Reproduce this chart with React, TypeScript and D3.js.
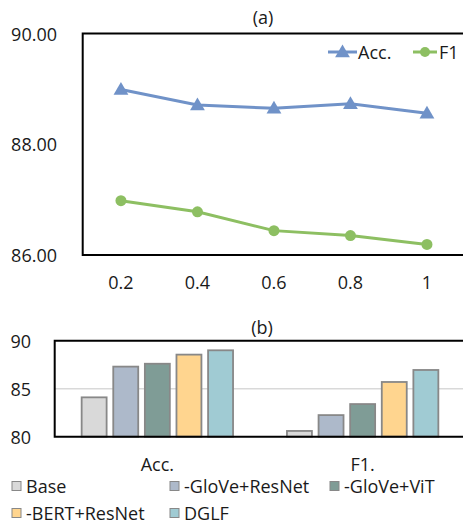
import React from "react";
import * as d3 from "d3";

const ratios = ["0.2", "0.4", "0.6", "0.8", "1"];
const accLine = [88.99, 88.71, 88.65, 88.73, 88.56];
const f1Line = [86.98, 86.78, 86.44, 86.35, 86.19];
const aTicks = [86, 88, 90];

const groups = ["Acc.", "F1."];
const series = ["Base", "-GloVe+ResNet", "-GloVe+ViT", "-BERT+ResNet", "DGLF"];
const accBars = [84.1, 87.3, 87.6, 88.55, 89.0];
const f1Bars = [80.6, 82.25, 83.4, 85.7, 86.95];
const bTicks = [80, 85, 90];

const seriesColors = ["#d9d9d9", "#adb9ca", "#7f9c96", "#ffd58f", "#a0cbd3"];
const FONT = "'Open Sans', 'Noto Sans', sans-serif";
const BLUE = "#7092c8";
const GREEN = "#8dbf62";
const TXT = "#1a1a1a";

export default function App() {
  // Chart (a)
  const xa = d3.scaleBand<string>().domain(ratios).range([82.7, 465.2]);
  const ya = d3.scaleLinear().domain([86, 90]).range([255, 33.5]);
  const cx = (c: string) => (xa(c) as number) + xa.bandwidth() / 2;
  const line = d3
    .line<number>()
    .x((_, i) => cx(ratios[i]))
    .y((d) => ya(d));
  const tri = d3.symbol().type(d3.symbolTriangle).size(95)();

  // Chart (b)
  const xb = d3.scaleBand<string>().domain(groups).range([54.7, 465.3]);
  const xs = d3.scaleBand<string>().domain(series).range([-75.7, 75.7]).paddingInner(0.21);
  const yb = d3.scaleLinear().domain([80, 90]).range([436.7, 340.7]);
  const barData = [accBars, f1Bars];

  const legendB = [
    { i: 0, x: 12, y: 486 },
    { i: 1, x: 170, y: 486 },
    { i: 2, x: 330, y: 486 },
    { i: 3, x: 12, y: 513 },
    { i: 4, x: 170, y: 513 },
  ];

  return (
    <svg
      width={463}
      height={524}
      style={{ position: "absolute", left: 0, top: 0, background: "#fff" }}
      fontFamily={FONT}
    >
      <rect x={0} y={0} width={463} height={524} fill="#fff" />
      {/* (a) */}
      <text x={263} y={17} textAnchor="middle" dominantBaseline="central" fontSize={18} fill={TXT}>
        (a)
      </text>
      {aTicks.map((t) => (
        <text key={t} x={57} y={ya(t)} textAnchor="end" dominantBaseline="central" fontSize={18} fill={TXT}>
          {t.toFixed(2)}
        </text>
      ))}
      {ratios.map((r) => (
        <text key={r} x={cx(r)} y={282} textAnchor="middle" dominantBaseline="central" fontSize={18} fill={TXT}>
          {r}
        </text>
      ))}
      <path d={line(accLine) as string} fill="none" stroke={BLUE} strokeWidth={3} />
      {accLine.map((v, i) => (
        <path key={i} d={tri as string} transform={`translate(${cx(ratios[i])},${ya(v) + 1})`} fill={BLUE} />
      ))}
      <path d={line(f1Line) as string} fill="none" stroke={GREEN} strokeWidth={3} />
      {f1Line.map((v, i) => (
        <circle key={i} cx={cx(ratios[i])} cy={ya(v)} r={5.5} fill={GREEN} />
      ))}
      <path
        d={`M470,${ya(90)}H${xa.range()[0]}V${ya(86)}H470`}
        fill="none"
        stroke="#000"
        strokeWidth={2}
      />
      {/* legend (a) */}
      <line x1={328} x2={357} y1={52} y2={52} stroke={BLUE} strokeWidth={3} />
      <path d={tri as string} transform="translate(342.5,53)" fill={BLUE} />
      <text x={358} y={52} dominantBaseline="central" fontSize={18} fill={TXT}>
        Acc.
      </text>
      <line x1={413} x2={437} y1={52} y2={52} stroke={GREEN} strokeWidth={3} />
      <circle cx={425} cy={52} r={5} fill={GREEN} />
      <text x={439} y={52} dominantBaseline="central" fontSize={18} fill={TXT}>
        F1
      </text>

      {/* (b) */}
      <text x={262} y={327} textAnchor="middle" dominantBaseline="central" fontSize={18} fill={TXT}>
        (b)
      </text>
      <line x1={54.7} x2={470} y1={yb(85)} y2={yb(85)} stroke="#d9d9d9" strokeWidth={1.5} />
      {bTicks.map((t) => (
        <text key={t} x={31} y={yb(t)} textAnchor="end" dominantBaseline="central" fontSize={18} fill={TXT}>
          {t}
        </text>
      ))}
      {groups.map((g, gi) => {
        const gc = (xb(g) as number) + xb.bandwidth() / 2;
        return (
          <g key={g}>
            {series.map((s, si) => (
              <rect
                key={s}
                x={gc + (xs(s) as number)}
                y={yb(barData[gi][si])}
                width={xs.bandwidth()}
                height={yb(80) - yb(barData[gi][si])}
                fill={seriesColors[si]}
                stroke="#888"
                strokeWidth={1.8}
              />
            ))}
            <text x={gc} y={464} textAnchor="middle" dominantBaseline="central" fontSize={18} fill={TXT}>
              {g}
            </text>
          </g>
        );
      })}
      <path
        d={`M470,${yb(90)}H${xb.range()[0]}V${yb(80)}H470`}
        fill="none"
        stroke="#000"
        strokeWidth={2}
      />
      {legendB.map((l) => (
        <g key={l.i}>
          <rect x={l.x} y={l.y - 4.5} width={9} height={9} fill={seriesColors[l.i]} stroke="#888" strokeWidth={1} />
          <text x={l.x + 14} y={l.y} dominantBaseline="central" fontSize={18} fill={TXT}>
            {series[l.i]}
          </text>
        </g>
      ))}
    </svg>
  );
}
